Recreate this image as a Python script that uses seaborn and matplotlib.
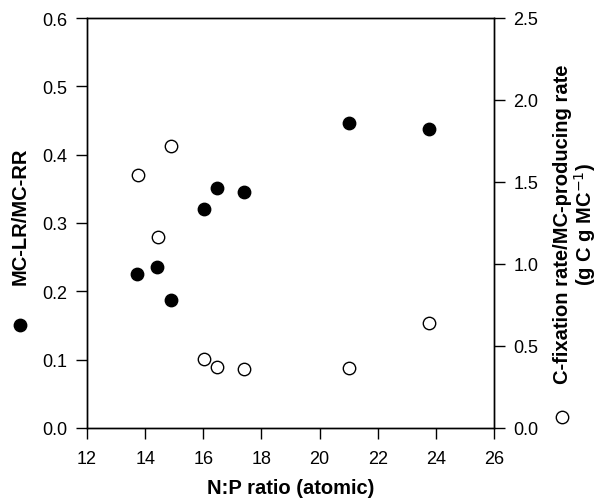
import numpy as np
import pandas as pd
import matplotlib
matplotlib.use("Agg")
from matplotlib import pyplot as plt
import seaborn as sns

# values
np_ratio = [13.73, 14.42, 14.88, 16.02, 16.48, 17.39, 21.02, 23.78]
lr_rr = [0.225, 0.236, 0.188, 0.320, 0.351, 0.346, 0.446, 0.438]
cfix_x = [13.74, 14.45, 14.89, 16.02, 16.47, 17.39, 21.02, 23.78]
cfix = [1.545, 1.166, 1.721, 0.420, 0.372, 0.360, 0.366, 0.640]
xticks = [12, 14, 16, 18, 20, 22, 24, 26]
left_ticks = [0.0, 0.1, 0.2, 0.3, 0.4, 0.5, 0.6]
right_ticks = [0.0, 0.5, 1.0, 1.5, 2.0, 2.5]

df1 = pd.DataFrame({'NP': np_ratio, 'ratio': lr_rr})
df2 = pd.DataFrame({'NP': cfix_x, 'cfix': cfix})

sns.set_style("ticks")
plt.rcParams['font.family'] = ['Liberation Sans', 'DejaVu Sans']
plt.rcParams['text.color'] = 'black'
plt.rcParams['axes.labelcolor'] = 'black'
plt.rcParams['xtick.color'] = 'black'
plt.rcParams['ytick.color'] = 'black'

fig = plt.figure(figsize=(5.99, 5.02), dpi=100)
ax = fig.add_axes([87/599, 73/502, 407/599, 410/502])
ax2 = ax.twinx()

sns.scatterplot(data=df1, x='NP', y='ratio', ax=ax, color='black', edgecolor='black',
                s=80, linewidth=1, zorder=3)
sns.scatterplot(data=df2, x='NP', y='cfix', ax=ax2, facecolor='white', edgecolor='black',
                s=80, linewidth=1, zorder=3)

ax.set_xlim(12, 26)
ax.set_ylim(0, 0.6)
ax2.set_ylim(0, 2.5)
ax.set_xticks(xticks)
ax.set_yticks(left_ticks)
ax2.set_yticks(right_ticks)
ax.set_xticklabels([str(t) for t in xticks])
ax.set_yticklabels(['%.1f' % t for t in left_ticks])
ax2.set_yticklabels(['%.1f' % t for t in right_ticks])

for a in (ax, ax2):
    a.tick_params(direction='out', length=8, width=1, labelsize=13, color='black',
                  labelcolor='black', pad=6)
    for sp in a.spines.values():
        sp.set_linewidth(1)
        sp.set_color('black')
        sp.set_visible(True)
ax.tick_params(axis='x', pad=8)

ax.set_xlabel('N:P ratio (atomic)', fontsize=14.5, fontweight='bold', labelpad=8)
ax.set_ylabel('')
ax2.set_ylabel('')

ax.text(-0.165, 0.52, 'MC-LR/MC-RR', transform=ax.transAxes, rotation=90,
        ha='center', va='center', fontsize=14.5, fontweight='bold')
ax.scatter([-0.165], [0.251], transform=ax.transAxes, s=80, color='black', clip_on=False)

ax.text(1.2, 0.5, 'C-fixation rate/MC-producing rate\n(g C g MC$^{-1}$)',
        transform=ax.transAxes, rotation=90, ha='center', va='center',
        multialignment='center', fontsize=14.5, fontweight='bold', linespacing=1.0)
ax.scatter([1.167], [0.027], transform=ax.transAxes, s=80, facecolor='white',
           edgecolor='black', linewidth=1, clip_on=False)

fig.savefig('out.png', dpi=100)
